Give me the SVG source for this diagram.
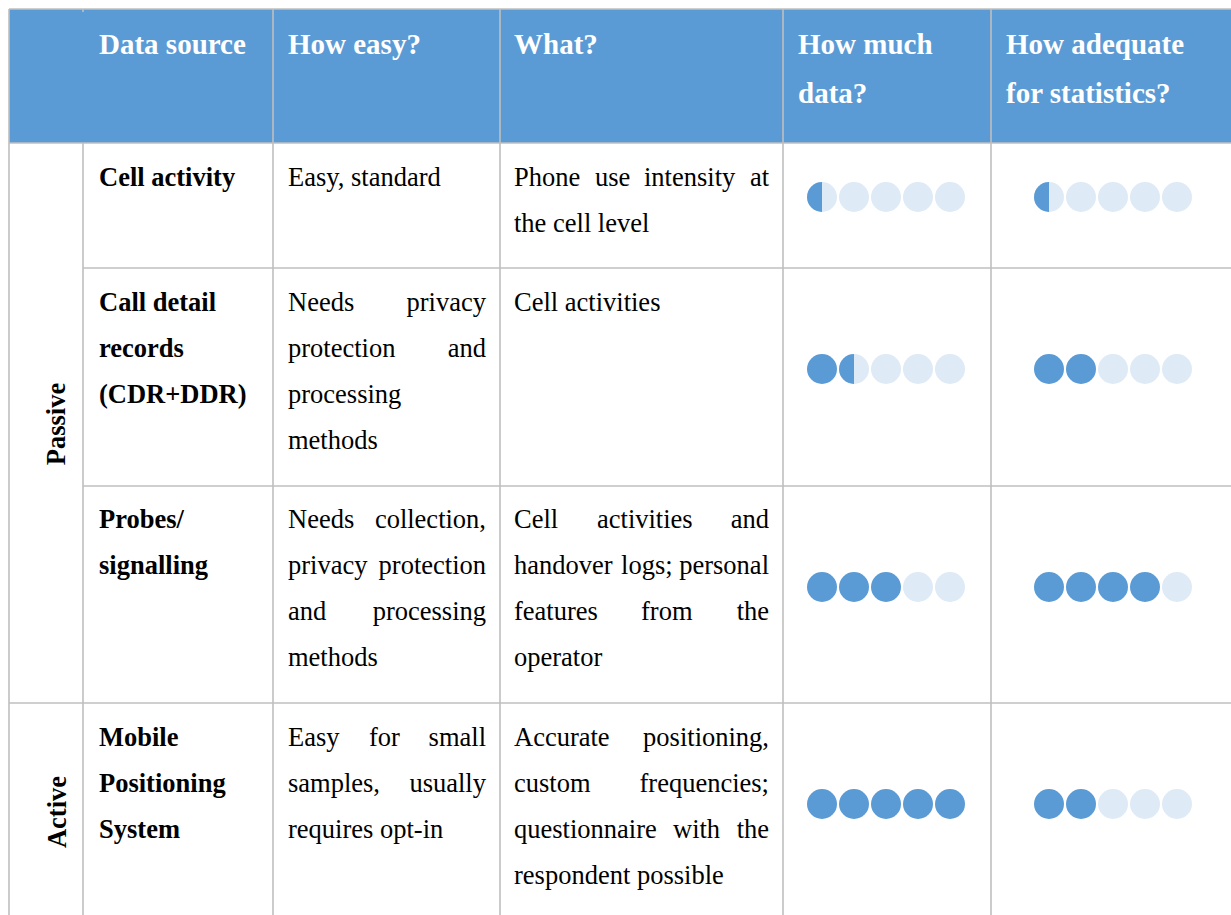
<svg xmlns="http://www.w3.org/2000/svg" width="1231" height="915" viewBox="0 0 1231 915">
<style>
.grid{stroke:#BFBFBF;stroke-width:1.6;fill:none}
.h{font-family:"Liberation Serif","Times New Roman",serif;font-weight:bold;font-size:29px;fill:#FFFFFF}
.b{font-family:"Liberation Serif","Times New Roman",serif;font-weight:bold;font-size:26.5px;fill:#000}
.t{font-family:"Liberation Serif","Times New Roman",serif;font-size:26.5px;fill:#000}
.e{text-anchor:end}
.on{fill:#5B9BD5}
.off{fill:#DEEAF6}
</style>
<defs>
<circle id="d" r="15" class="on"/>
<circle id="l" r="15" class="off"/>
<g id="hf"><circle r="15" class="off"/><path d="M0,-15 A15,15 0 0,0 0,15 Z" class="on"/></g>
</defs>
<rect width="1231" height="915" fill="#FFFFFF"/>
<g id="header">
<rect x="9" y="9" width="1222" height="134" fill="#5B9BD5"/>
<text class="h" x="99" y="54">Data source</text>
<text class="h" x="288" y="54">How easy?</text>
<text class="h" x="514" y="54">What?</text>
<text class="h" x="798" y="54">How much</text>
<text class="h" x="798" y="103">data?</text>
<text class="h" x="1006" y="54">How adequate</text>
<text class="h" x="1006" y="103">for statistics?</text>
</g>
<g id="grid">
<line class="grid" x1="9" y1="9" x2="1231" y2="9"/>
<line class="grid" x1="9" y1="143" x2="1231" y2="143"/>
<line class="grid" x1="83" y1="268" x2="1231" y2="268"/>
<line class="grid" x1="83" y1="486" x2="1231" y2="486"/>
<line class="grid" x1="9" y1="703" x2="1231" y2="703"/>
<line class="grid" x1="9" y1="9" x2="9" y2="915"/>
<line class="grid" x1="83" y1="9" x2="83" y2="12"/>
<line class="grid" x1="83" y1="143" x2="83" y2="915"/>
<line class="grid" x1="273" y1="9" x2="273" y2="915"/>
<line class="grid" x1="500" y1="9" x2="500" y2="915"/>
<line class="grid" x1="783" y1="9" x2="783" y2="915"/>
<line class="grid" x1="991" y1="9" x2="991" y2="915"/>
</g>
<g id="group-passive">
<text class="b" transform="translate(65,424) rotate(-90)" text-anchor="middle">Passive</text>
</g>
<g id="group-active">
<text class="b" transform="translate(65.5,812) rotate(-90)" text-anchor="middle">Active</text>
</g>
<g id="row-cell-activity">
<text class="b" x="99" y="186">Cell activity</text>
<text class="t" x="288" y="186">Easy, standard</text>
<text class="t" y="186"><tspan x="514">Phone</tspan><tspan x="595">use</tspan><tspan x="644">intensity</tspan></text>
<text class="t e" x="769" y="186">at</text>
<text class="t" x="514" y="232">the cell level</text>
<use href="#hf" x="822" y="197"/><use href="#l" x="854" y="197"/><use href="#l" x="886" y="197"/><use href="#l" x="918" y="197"/><use href="#l" x="950" y="197"/>
<use href="#hf" x="1049" y="197"/><use href="#l" x="1081" y="197"/><use href="#l" x="1113" y="197"/><use href="#l" x="1145" y="197"/><use href="#l" x="1177" y="197"/>
</g>
<g id="row-cdr">
<text class="b" x="99" y="311">Call detail</text>
<text class="b" x="99" y="357">records</text>
<text class="b" x="99" y="403">(CDR+DDR)</text>
<text class="t" x="288" y="311">Needs</text><text class="t e" x="486" y="311">privacy</text>
<text class="t" x="288" y="357">protection</text><text class="t e" x="486" y="357">and</text>
<text class="t" x="288" y="403">processing</text>
<text class="t" x="288" y="449">methods</text>
<text class="t" x="514" y="311">Cell activities</text>
<use href="#d" x="822" y="369"/><use href="#hf" x="854" y="369"/><use href="#l" x="886" y="369"/><use href="#l" x="918" y="369"/><use href="#l" x="950" y="369"/>
<use href="#d" x="1049" y="369"/><use href="#d" x="1081" y="369"/><use href="#l" x="1113" y="369"/><use href="#l" x="1145" y="369"/><use href="#l" x="1177" y="369"/>
</g>
<g id="row-probes">
<text class="b" x="99" y="528">Probes/</text>
<text class="b" x="99" y="574">signalling</text>
<text class="t" x="288" y="528">Needs</text><text class="t e" x="486" y="528">collection,</text>
<text class="t" x="288" y="574">privacy</text><text class="t e" x="486" y="574">protection</text>
<text class="t" x="288" y="620">and</text><text class="t e" x="486" y="620">processing</text>
<text class="t" x="288" y="666">methods</text>
<text class="t" x="514" y="528">Cell</text><text class="t" x="597" y="528">activities</text><text class="t e" x="769" y="528">and</text>
<text class="t" x="514" y="574">handover</text><text class="t e" x="769" y="574">logs; personal</text>
<text class="t" x="514" y="620">features</text><text class="t" x="641" y="620">from</text><text class="t e" x="769" y="620">the</text>
<text class="t" x="514" y="666">operator</text>
<use href="#d" x="822" y="587"/><use href="#d" x="854" y="587"/><use href="#d" x="886" y="587"/><use href="#l" x="918" y="587"/><use href="#l" x="950" y="587"/>
<use href="#d" x="1049" y="587"/><use href="#d" x="1081" y="587"/><use href="#d" x="1113" y="587"/><use href="#d" x="1145" y="587"/><use href="#l" x="1177" y="587"/>
</g>
<g id="row-mps">
<text class="b" x="99" y="746">Mobile</text>
<text class="b" x="99" y="792">Positioning</text>
<text class="b" x="99" y="838">System</text>
<text class="t" x="288" y="746">Easy</text><text class="t" x="369" y="746">for</text><text class="t e" x="486" y="746">small</text>
<text class="t" x="288" y="792">samples,</text><text class="t e" x="486" y="792">usually</text>
<text class="t" x="288" y="838">requires opt-in</text>
<text class="t" x="514" y="746">Accurate</text><text class="t e" x="769" y="746">positioning,</text>
<text class="t" x="514" y="792">custom</text><text class="t e" x="769" y="792">frequencies;</text>
<text class="t" x="514" y="838">questionnaire</text><text class="t" x="673" y="838">with</text><text class="t e" x="769" y="838">the</text>
<text class="t" x="514" y="884">respondent possible</text>
<use href="#d" x="822" y="804"/><use href="#d" x="854" y="804"/><use href="#d" x="886" y="804"/><use href="#d" x="918" y="804"/><use href="#d" x="950" y="804"/>
<use href="#d" x="1049" y="804"/><use href="#d" x="1081" y="804"/><use href="#l" x="1113" y="804"/><use href="#l" x="1145" y="804"/><use href="#l" x="1177" y="804"/>
</g>
</svg>
